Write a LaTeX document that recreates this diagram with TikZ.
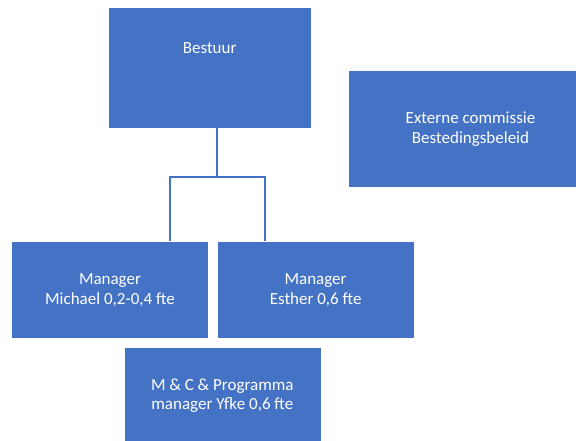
\documentclass[tikz,border=0pt]{standalone}
\usepackage{fontspec}
\setmainfont{Carlito}
\usetikzlibrary{positioning}
\definecolor{oblue}{HTML}{4472C4}
\tikzstyle{unit} = [rectangle, minimum width = 197pt, minimum height = 97pt, inner sep = 0pt, text = white, text centered, fill = oblue, draw = white, line width = 0.6pt, font = \fontsize{17}{19.3}\selectfont]
\tikzstyle{tie} = [draw = oblue, line width = 2pt]
\begin{document}
\begin{tikzpicture}[align=center, x=1pt, y=1pt]
\useasboundingbox (0,0) rectangle (576,441);
\clip (0,0) rectangle (576,441);
\node (bestuur) [unit, minimum width = 203pt, minimum height = 121pt] at (209.7,373.5) {Bestuur\\~\\~};
\node (extern) [unit, minimum width = 245pt, minimum height = 117pt] at (470.5,312) {Externe commissie\\Bestedingsbeleid};
\node (michael) [unit] at (110,151) {Manager\\Michael 0,2-0,4 fte};
\node (esther) [unit, right = 8pt of michael.east, anchor = west] {Manager\\Esther 0,6 fte};
\node (yfke) [unit, below = 8pt of michael.south east, anchor = north, xshift = 13.5pt] {M \& C \& Programma\\manager Yfke 0,6 fte};
\coordinate (split) at (217.3,264.3);
\draw [tie] (bestuur.south -| split) -- (split);
\draw [tie] (split) -| ([xshift=60pt]michael.north);
\draw [tie] (split) -| ([xshift=-50.7pt]esther.north);
\end{tikzpicture}
\end{document}
